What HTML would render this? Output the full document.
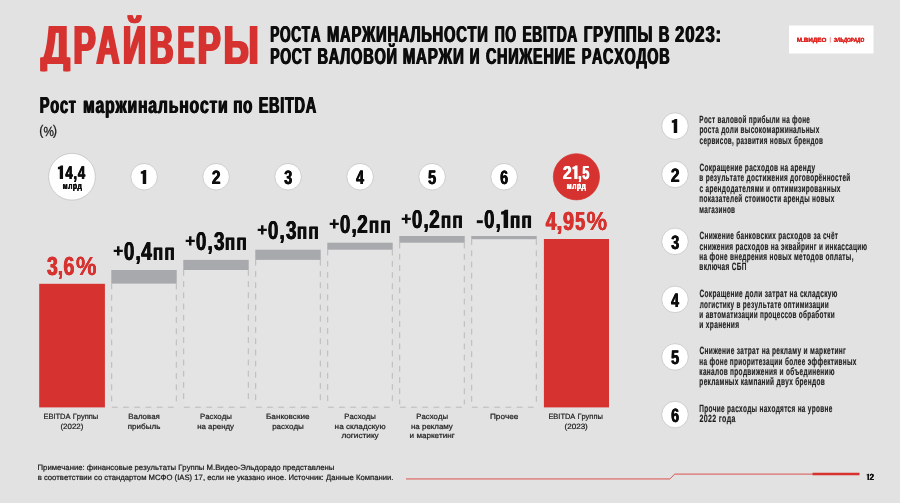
<!DOCTYPE html>
<html lang="ru"><head><meta charset="utf-8"><title>Драйверы роста маржинальности по EBITDA</title>
<style>
html,body{margin:0;padding:0;background:#e2e2e2;}
body{width:900px;height:503px;overflow:hidden;}
svg{display:block;font-family:"Liberation Sans",sans-serif;font-kerning:none;text-rendering:geometricPrecision;opacity:0.999;will-change:transform;}
</style></head><body>
<svg width="900" height="503" viewBox="0 0 900 503">
<rect width="900" height="503" fill="#e2e2e2"/>
<clipPath id="tc"><rect x="0" y="15.2" width="300" height="56.1"/></clipPath><g clip-path="url(#tc)">
<text x="39.64" y="64.00" textLength="29.20" lengthAdjust="spacingAndGlyphs" font-size="55.2" font-weight="bold" fill="#d6322f"  aria-hidden="true">Д</text>
<text x="40.84" y="64.00" textLength="29.20" lengthAdjust="spacingAndGlyphs" font-size="55.2" font-weight="bold" fill="#d6322f" >Д</text>
<text x="42.04" y="64.00" textLength="29.20" lengthAdjust="spacingAndGlyphs" font-size="55.2" font-weight="bold" fill="#d6322f"  aria-hidden="true">Д</text>
<text x="72.28" y="64.00" textLength="22.16" lengthAdjust="spacingAndGlyphs" font-size="55.2" font-weight="bold" fill="#d6322f"  aria-hidden="true">Р</text>
<text x="73.48" y="64.00" textLength="22.16" lengthAdjust="spacingAndGlyphs" font-size="55.2" font-weight="bold" fill="#d6322f" >Р</text>
<text x="74.68" y="64.00" textLength="22.16" lengthAdjust="spacingAndGlyphs" font-size="55.2" font-weight="bold" fill="#d6322f"  aria-hidden="true">Р</text>
<text x="95.31" y="64.00" textLength="22.93" lengthAdjust="spacingAndGlyphs" font-size="55.2" font-weight="bold" fill="#d6322f"  aria-hidden="true">А</text>
<text x="96.51" y="64.00" textLength="22.93" lengthAdjust="spacingAndGlyphs" font-size="55.2" font-weight="bold" fill="#d6322f" >А</text>
<text x="97.71" y="64.00" textLength="22.93" lengthAdjust="spacingAndGlyphs" font-size="55.2" font-weight="bold" fill="#d6322f"  aria-hidden="true">А</text>
<text x="121.66" y="64.00" textLength="23.20" lengthAdjust="spacingAndGlyphs" font-size="55.2" font-weight="bold" fill="#d6322f"  aria-hidden="true">Й</text>
<text x="122.86" y="64.00" textLength="23.20" lengthAdjust="spacingAndGlyphs" font-size="55.2" font-weight="bold" fill="#d6322f" >Й</text>
<text x="124.06" y="64.00" textLength="23.20" lengthAdjust="spacingAndGlyphs" font-size="55.2" font-weight="bold" fill="#d6322f"  aria-hidden="true">Й</text>
<text x="148.28" y="64.00" textLength="23.92" lengthAdjust="spacingAndGlyphs" font-size="55.2" font-weight="bold" fill="#d6322f"  aria-hidden="true">В</text>
<text x="149.48" y="64.00" textLength="23.92" lengthAdjust="spacingAndGlyphs" font-size="55.2" font-weight="bold" fill="#d6322f" >В</text>
<text x="150.68" y="64.00" textLength="23.92" lengthAdjust="spacingAndGlyphs" font-size="55.2" font-weight="bold" fill="#d6322f"  aria-hidden="true">В</text>
<text x="176.41" y="64.00" textLength="16.88" lengthAdjust="spacingAndGlyphs" font-size="55.2" font-weight="bold" fill="#d6322f"  aria-hidden="true">Е</text>
<text x="177.61" y="64.00" textLength="16.88" lengthAdjust="spacingAndGlyphs" font-size="55.2" font-weight="bold" fill="#d6322f" >Е</text>
<text x="178.81" y="64.00" textLength="16.88" lengthAdjust="spacingAndGlyphs" font-size="55.2" font-weight="bold" fill="#d6322f"  aria-hidden="true">Е</text>
<text x="196.51" y="64.00" textLength="22.86" lengthAdjust="spacingAndGlyphs" font-size="55.2" font-weight="bold" fill="#d6322f"  aria-hidden="true">Р</text>
<text x="197.71" y="64.00" textLength="22.86" lengthAdjust="spacingAndGlyphs" font-size="55.2" font-weight="bold" fill="#d6322f" >Р</text>
<text x="198.91" y="64.00" textLength="22.86" lengthAdjust="spacingAndGlyphs" font-size="55.2" font-weight="bold" fill="#d6322f"  aria-hidden="true">Р</text>
<text x="222.53" y="64.00" textLength="34.75" lengthAdjust="spacingAndGlyphs" font-size="55.2" font-weight="bold" fill="#d6322f"  aria-hidden="true">Ы</text>
<text x="223.73" y="64.00" textLength="34.75" lengthAdjust="spacingAndGlyphs" font-size="55.2" font-weight="bold" fill="#d6322f" >Ы</text>
<text x="224.93" y="64.00" textLength="34.75" lengthAdjust="spacingAndGlyphs" font-size="55.2" font-weight="bold" fill="#d6322f"  aria-hidden="true">Ы</text>
</g>
<text x="269.79" y="42.00" textLength="51.03" lengthAdjust="spacingAndGlyphs" font-size="22.9" font-weight="bold" fill="#0d0d0d"  letter-spacing="1.1" aria-hidden="true">РОСТА</text>
<text x="270.29" y="42.00" textLength="51.03" lengthAdjust="spacingAndGlyphs" font-size="22.9" font-weight="bold" fill="#0d0d0d"  letter-spacing="1.1">РОСТА</text>
<text x="270.79" y="42.00" textLength="51.03" lengthAdjust="spacingAndGlyphs" font-size="22.9" font-weight="bold" fill="#0d0d0d"  letter-spacing="1.1" aria-hidden="true">РОСТА</text>
<text x="326.51" y="42.00" textLength="161.69" lengthAdjust="spacingAndGlyphs" font-size="22.9" font-weight="bold" fill="#0d0d0d"  letter-spacing="1.1" aria-hidden="true">МАРЖИНАЛЬНОСТИ</text>
<text x="327.01" y="42.00" textLength="161.69" lengthAdjust="spacingAndGlyphs" font-size="22.9" font-weight="bold" fill="#0d0d0d"  letter-spacing="1.1">МАРЖИНАЛЬНОСТИ</text>
<text x="327.51" y="42.00" textLength="161.69" lengthAdjust="spacingAndGlyphs" font-size="22.9" font-weight="bold" fill="#0d0d0d"  letter-spacing="1.1" aria-hidden="true">МАРЖИНАЛЬНОСТИ</text>
<text x="494.17" y="42.00" textLength="22.19" lengthAdjust="spacingAndGlyphs" font-size="22.9" font-weight="bold" fill="#0d0d0d"  letter-spacing="1.1" aria-hidden="true">ПО</text>
<text x="494.67" y="42.00" textLength="22.19" lengthAdjust="spacingAndGlyphs" font-size="22.9" font-weight="bold" fill="#0d0d0d"  letter-spacing="1.1">ПО</text>
<text x="495.17" y="42.00" textLength="22.19" lengthAdjust="spacingAndGlyphs" font-size="22.9" font-weight="bold" fill="#0d0d0d"  letter-spacing="1.1" aria-hidden="true">ПО</text>
<text x="521.97" y="42.00" textLength="55.56" lengthAdjust="spacingAndGlyphs" font-size="22.9" font-weight="bold" fill="#0d0d0d"  letter-spacing="1.1" aria-hidden="true">EBITDA</text>
<text x="522.47" y="42.00" textLength="55.56" lengthAdjust="spacingAndGlyphs" font-size="22.9" font-weight="bold" fill="#0d0d0d"  letter-spacing="1.1">EBITDA</text>
<text x="522.97" y="42.00" textLength="55.56" lengthAdjust="spacingAndGlyphs" font-size="22.9" font-weight="bold" fill="#0d0d0d"  letter-spacing="1.1" aria-hidden="true">EBITDA</text>
<text x="583.18" y="42.00" textLength="69.47" lengthAdjust="spacingAndGlyphs" font-size="22.9" font-weight="bold" fill="#0d0d0d"  letter-spacing="1.1" aria-hidden="true">ГРУППЫ</text>
<text x="583.68" y="42.00" textLength="69.47" lengthAdjust="spacingAndGlyphs" font-size="22.9" font-weight="bold" fill="#0d0d0d"  letter-spacing="1.1">ГРУППЫ</text>
<text x="584.18" y="42.00" textLength="69.47" lengthAdjust="spacingAndGlyphs" font-size="22.9" font-weight="bold" fill="#0d0d0d"  letter-spacing="1.1" aria-hidden="true">ГРУППЫ</text>
<text x="658.21" y="42.00" textLength="11.37" lengthAdjust="spacingAndGlyphs" font-size="22.9" font-weight="bold" fill="#0d0d0d"  letter-spacing="1.1" aria-hidden="true">В</text>
<text x="658.71" y="42.00" textLength="11.37" lengthAdjust="spacingAndGlyphs" font-size="22.9" font-weight="bold" fill="#0d0d0d"  letter-spacing="1.1">В</text>
<text x="659.21" y="42.00" textLength="11.37" lengthAdjust="spacingAndGlyphs" font-size="22.9" font-weight="bold" fill="#0d0d0d"  letter-spacing="1.1" aria-hidden="true">В</text>
<text x="674.62" y="42.00" textLength="46.79" lengthAdjust="spacingAndGlyphs" font-size="22.9" font-weight="bold" fill="#0d0d0d"  letter-spacing="1.1" aria-hidden="true">2023:</text>
<text x="675.12" y="42.00" textLength="46.79" lengthAdjust="spacingAndGlyphs" font-size="22.9" font-weight="bold" fill="#0d0d0d"  letter-spacing="1.1">2023:</text>
<text x="675.62" y="42.00" textLength="46.79" lengthAdjust="spacingAndGlyphs" font-size="22.9" font-weight="bold" fill="#0d0d0d"  letter-spacing="1.1" aria-hidden="true">2023:</text>
<text x="269.76" y="64.00" textLength="41.56" lengthAdjust="spacingAndGlyphs" font-size="22.9" font-weight="bold" fill="#0d0d0d"  letter-spacing="1.1" aria-hidden="true">РОСТ</text>
<text x="270.26" y="64.00" textLength="41.56" lengthAdjust="spacingAndGlyphs" font-size="22.9" font-weight="bold" fill="#0d0d0d"  letter-spacing="1.1">РОСТ</text>
<text x="270.76" y="64.00" textLength="41.56" lengthAdjust="spacingAndGlyphs" font-size="22.9" font-weight="bold" fill="#0d0d0d"  letter-spacing="1.1" aria-hidden="true">РОСТ</text>
<text x="317.12" y="64.00" textLength="80.06" lengthAdjust="spacingAndGlyphs" font-size="22.9" font-weight="bold" fill="#0d0d0d"  letter-spacing="1.1" aria-hidden="true">ВАЛОВОЙ</text>
<text x="317.62" y="64.00" textLength="80.06" lengthAdjust="spacingAndGlyphs" font-size="22.9" font-weight="bold" fill="#0d0d0d"  letter-spacing="1.1">ВАЛОВОЙ</text>
<text x="318.12" y="64.00" textLength="80.06" lengthAdjust="spacingAndGlyphs" font-size="22.9" font-weight="bold" fill="#0d0d0d"  letter-spacing="1.1" aria-hidden="true">ВАЛОВОЙ</text>
<text x="402.19" y="64.00" textLength="61.85" lengthAdjust="spacingAndGlyphs" font-size="22.9" font-weight="bold" fill="#0d0d0d"  letter-spacing="1.1" aria-hidden="true">МАРЖИ</text>
<text x="402.69" y="64.00" textLength="61.85" lengthAdjust="spacingAndGlyphs" font-size="22.9" font-weight="bold" fill="#0d0d0d"  letter-spacing="1.1">МАРЖИ</text>
<text x="403.19" y="64.00" textLength="61.85" lengthAdjust="spacingAndGlyphs" font-size="22.9" font-weight="bold" fill="#0d0d0d"  letter-spacing="1.1" aria-hidden="true">МАРЖИ</text>
<text x="469.20" y="64.00" textLength="10.35" lengthAdjust="spacingAndGlyphs" font-size="22.9" font-weight="bold" fill="#0d0d0d"  letter-spacing="1.1" aria-hidden="true">И</text>
<text x="469.70" y="64.00" textLength="10.35" lengthAdjust="spacingAndGlyphs" font-size="22.9" font-weight="bold" fill="#0d0d0d"  letter-spacing="1.1">И</text>
<text x="470.20" y="64.00" textLength="10.35" lengthAdjust="spacingAndGlyphs" font-size="22.9" font-weight="bold" fill="#0d0d0d"  letter-spacing="1.1" aria-hidden="true">И</text>
<text x="485.41" y="64.00" textLength="90.05" lengthAdjust="spacingAndGlyphs" font-size="22.9" font-weight="bold" fill="#0d0d0d"  letter-spacing="1.1" aria-hidden="true">СНИЖЕНИЕ</text>
<text x="485.91" y="64.00" textLength="90.05" lengthAdjust="spacingAndGlyphs" font-size="22.9" font-weight="bold" fill="#0d0d0d"  letter-spacing="1.1">СНИЖЕНИЕ</text>
<text x="486.41" y="64.00" textLength="90.05" lengthAdjust="spacingAndGlyphs" font-size="22.9" font-weight="bold" fill="#0d0d0d"  letter-spacing="1.1" aria-hidden="true">СНИЖЕНИЕ</text>
<text x="581.24" y="64.00" textLength="88.61" lengthAdjust="spacingAndGlyphs" font-size="22.9" font-weight="bold" fill="#0d0d0d"  letter-spacing="1.1" aria-hidden="true">РАСХОДОВ</text>
<text x="581.74" y="64.00" textLength="88.61" lengthAdjust="spacingAndGlyphs" font-size="22.9" font-weight="bold" fill="#0d0d0d"  letter-spacing="1.1">РАСХОДОВ</text>
<text x="582.24" y="64.00" textLength="88.61" lengthAdjust="spacingAndGlyphs" font-size="22.9" font-weight="bold" fill="#0d0d0d"  letter-spacing="1.1" aria-hidden="true">РАСХОДОВ</text>
<rect x="789" y="25.5" width="84.5" height="28" fill="#ffffff"/>
<text x="796.68" y="42.00" textLength="29.48" lengthAdjust="spacingAndGlyphs" font-size="6.1" font-weight="bold" fill="#e02a26"  aria-hidden="true">М.ВИДЕО</text>
<text x="796.88" y="42.00" textLength="29.48" lengthAdjust="spacingAndGlyphs" font-size="6.1" font-weight="bold" fill="#e02a26" >М.ВИДЕО</text>
<text x="797.08" y="42.00" textLength="29.48" lengthAdjust="spacingAndGlyphs" font-size="6.1" font-weight="bold" fill="#e02a26"  aria-hidden="true">М.ВИДЕО</text>
<rect x="829.85" y="37.1" width="0.7" height="5.4" fill="#e4625e"/>
<text x="833.60" y="42.00" textLength="30.27" lengthAdjust="spacingAndGlyphs" font-size="6.1" font-weight="bold" fill="#e02a26" font-style="italic" aria-hidden="true">ЭЛЬДОРАДО</text>
<text x="833.80" y="42.00" textLength="30.27" lengthAdjust="spacingAndGlyphs" font-size="6.1" font-weight="bold" fill="#e02a26" font-style="italic">ЭЛЬДОРАДО</text>
<text x="834.00" y="42.00" textLength="30.27" lengthAdjust="spacingAndGlyphs" font-size="6.1" font-weight="bold" fill="#e02a26" font-style="italic" aria-hidden="true">ЭЛЬДОРАДО</text>
<text x="39.32" y="113.00" textLength="36.78" lengthAdjust="spacingAndGlyphs" font-size="23.2" font-weight="bold" fill="#0d0d0d"  letter-spacing="1.1" aria-hidden="true">Рост</text>
<text x="39.82" y="113.00" textLength="36.78" lengthAdjust="spacingAndGlyphs" font-size="23.2" font-weight="bold" fill="#0d0d0d"  letter-spacing="1.1">Рост</text>
<text x="40.32" y="113.00" textLength="36.78" lengthAdjust="spacingAndGlyphs" font-size="23.2" font-weight="bold" fill="#0d0d0d"  letter-spacing="1.1" aria-hidden="true">Рост</text>
<text x="82.59" y="113.00" textLength="145.35" lengthAdjust="spacingAndGlyphs" font-size="23.2" font-weight="bold" fill="#0d0d0d"  letter-spacing="1.1" aria-hidden="true">маржинальности</text>
<text x="83.09" y="113.00" textLength="145.35" lengthAdjust="spacingAndGlyphs" font-size="23.2" font-weight="bold" fill="#0d0d0d"  letter-spacing="1.1">маржинальности</text>
<text x="83.59" y="113.00" textLength="145.35" lengthAdjust="spacingAndGlyphs" font-size="23.2" font-weight="bold" fill="#0d0d0d"  letter-spacing="1.1" aria-hidden="true">маржинальности</text>
<text x="232.63" y="113.00" textLength="20.10" lengthAdjust="spacingAndGlyphs" font-size="23.2" font-weight="bold" fill="#0d0d0d"  letter-spacing="1.1" aria-hidden="true">по</text>
<text x="233.13" y="113.00" textLength="20.10" lengthAdjust="spacingAndGlyphs" font-size="23.2" font-weight="bold" fill="#0d0d0d"  letter-spacing="1.1">по</text>
<text x="233.63" y="113.00" textLength="20.10" lengthAdjust="spacingAndGlyphs" font-size="23.2" font-weight="bold" fill="#0d0d0d"  letter-spacing="1.1" aria-hidden="true">по</text>
<text x="258.13" y="113.00" textLength="58.25" lengthAdjust="spacingAndGlyphs" font-size="23.2" font-weight="bold" fill="#0d0d0d"  letter-spacing="1.1" aria-hidden="true">EBITDA</text>
<text x="258.63" y="113.00" textLength="58.25" lengthAdjust="spacingAndGlyphs" font-size="23.2" font-weight="bold" fill="#0d0d0d"  letter-spacing="1.1">EBITDA</text>
<text x="259.13" y="113.00" textLength="58.25" lengthAdjust="spacingAndGlyphs" font-size="23.2" font-weight="bold" fill="#0d0d0d"  letter-spacing="1.1" aria-hidden="true">EBITDA</text>
<text x="39.35" y="135.00" textLength="4.02" lengthAdjust="spacingAndGlyphs" font-size="13.8" font-weight="normal" fill="#1a1a1a" stroke="#1a1a1a" stroke-width="0.3">(</text>
<text x="43.48" y="136.00" textLength="10.44" lengthAdjust="spacingAndGlyphs" font-size="13.3" font-weight="normal" fill="#1a1a1a" stroke="#1a1a1a" stroke-width="0.3">%</text>
<text x="52.93" y="135.00" textLength="4.02" lengthAdjust="spacingAndGlyphs" font-size="13.8" font-weight="normal" fill="#1a1a1a" stroke="#1a1a1a" stroke-width="0.3">)</text>
<rect x="39.2" y="283.8" width="65.7" height="123.6" fill="#d6322f"/>
<rect x="543.9" y="239.0" width="65.1" height="168.4" fill="#d6322f"/>
<rect x="111.3" y="283.6" width="65.4" height="123.8" fill="#e4e4e4"/>
<path d="M111.7 283.6V404.4M176.3 283.6V404.4M111.9 407.2H176.7" stroke="#b2b2b4" stroke-width="0.85" stroke-dasharray="5.8 5.4" fill="none"/>
<rect x="111.3" y="270.0" width="65.4" height="13.6" fill="#a8a9ac"/>
<rect x="183.3" y="270.0" width="65.4" height="137.4" fill="#e4e4e4"/>
<path d="M183.7 270.0V404.4M248.3 270.0V404.4M183.9 407.2H248.7" stroke="#b2b2b4" stroke-width="0.85" stroke-dasharray="5.8 5.4" fill="none"/>
<rect x="183.3" y="259.9" width="65.4" height="10.1" fill="#a8a9ac"/>
<rect x="255.3" y="259.9" width="65.4" height="147.5" fill="#e4e4e4"/>
<path d="M255.7 259.9V404.4M320.3 259.9V404.4M255.9 407.2H320.7" stroke="#b2b2b4" stroke-width="0.85" stroke-dasharray="5.8 5.4" fill="none"/>
<rect x="255.3" y="249.7" width="65.4" height="10.2" fill="#a8a9ac"/>
<rect x="327.3" y="249.7" width="65.4" height="157.7" fill="#e4e4e4"/>
<path d="M327.7 249.7V404.4M392.3 249.7V404.4M327.9 407.2H392.7" stroke="#b2b2b4" stroke-width="0.85" stroke-dasharray="5.8 5.4" fill="none"/>
<rect x="327.3" y="242.7" width="65.4" height="7.0" fill="#a8a9ac"/>
<rect x="399.3" y="242.7" width="65.4" height="164.7" fill="#e4e4e4"/>
<path d="M399.7 242.7V404.4M464.3 242.7V404.4M399.9 407.2H464.7" stroke="#b2b2b4" stroke-width="0.85" stroke-dasharray="5.8 5.4" fill="none"/>
<rect x="399.3" y="236.0" width="65.4" height="6.7" fill="#a8a9ac"/>
<rect x="471.3" y="239.2" width="65.4" height="168.2" fill="#e4e4e4"/>
<path d="M471.7 239.2V404.4M536.3 239.2V404.4M471.9 407.2H536.7" stroke="#b2b2b4" stroke-width="0.85" stroke-dasharray="5.8 5.4" fill="none"/>
<rect x="471.3" y="236.0" width="65.4" height="3.2" fill="#a8a9ac"/>
<text x="46.56" y="275.00" textLength="10.74" lengthAdjust="spacingAndGlyphs" font-size="26.3" font-weight="bold" fill="#d6322f"  aria-hidden="true">3</text>
<text x="47.01" y="275.00" textLength="10.74" lengthAdjust="spacingAndGlyphs" font-size="26.3" font-weight="bold" fill="#d6322f" >3</text>
<text x="47.46" y="275.00" textLength="10.74" lengthAdjust="spacingAndGlyphs" font-size="26.3" font-weight="bold" fill="#d6322f"  aria-hidden="true">3</text>
<text x="57.47" y="275.00" textLength="5.05" lengthAdjust="spacingAndGlyphs" font-size="26.3" font-weight="bold" fill="#d6322f"  aria-hidden="true">,</text>
<text x="57.92" y="275.00" textLength="5.05" lengthAdjust="spacingAndGlyphs" font-size="26.3" font-weight="bold" fill="#d6322f" >,</text>
<text x="58.37" y="275.00" textLength="5.05" lengthAdjust="spacingAndGlyphs" font-size="26.3" font-weight="bold" fill="#d6322f"  aria-hidden="true">,</text>
<text x="62.97" y="275.00" textLength="11.04" lengthAdjust="spacingAndGlyphs" font-size="26.3" font-weight="bold" fill="#d6322f"  aria-hidden="true">6</text>
<text x="63.42" y="275.00" textLength="11.04" lengthAdjust="spacingAndGlyphs" font-size="26.3" font-weight="bold" fill="#d6322f" >6</text>
<text x="63.87" y="275.00" textLength="11.04" lengthAdjust="spacingAndGlyphs" font-size="26.3" font-weight="bold" fill="#d6322f"  aria-hidden="true">6</text>
<text x="75.82" y="275.00" textLength="20.69" lengthAdjust="spacingAndGlyphs" font-size="26.3" font-weight="bold" fill="#d6322f"  aria-hidden="true">%</text>
<text x="75.97" y="275.00" textLength="20.69" lengthAdjust="spacingAndGlyphs" font-size="26.3" font-weight="bold" fill="#d6322f" >%</text>
<text x="76.12" y="275.00" textLength="20.69" lengthAdjust="spacingAndGlyphs" font-size="26.3" font-weight="bold" fill="#d6322f"  aria-hidden="true">%</text>
<text x="545.31" y="230.00" textLength="10.59" lengthAdjust="spacingAndGlyphs" font-size="26.3" font-weight="bold" fill="#d6322f"  aria-hidden="true">4</text>
<text x="545.76" y="230.00" textLength="10.59" lengthAdjust="spacingAndGlyphs" font-size="26.3" font-weight="bold" fill="#d6322f" >4</text>
<text x="546.21" y="230.00" textLength="10.59" lengthAdjust="spacingAndGlyphs" font-size="26.3" font-weight="bold" fill="#d6322f"  aria-hidden="true">4</text>
<text x="556.08" y="230.00" textLength="5.83" lengthAdjust="spacingAndGlyphs" font-size="26.3" font-weight="bold" fill="#d6322f"  aria-hidden="true">,</text>
<text x="556.53" y="230.00" textLength="5.83" lengthAdjust="spacingAndGlyphs" font-size="26.3" font-weight="bold" fill="#d6322f" >,</text>
<text x="556.98" y="230.00" textLength="5.83" lengthAdjust="spacingAndGlyphs" font-size="26.3" font-weight="bold" fill="#d6322f"  aria-hidden="true">,</text>
<text x="562.61" y="230.00" textLength="11.02" lengthAdjust="spacingAndGlyphs" font-size="26.3" font-weight="bold" fill="#d6322f"  aria-hidden="true">9</text>
<text x="563.06" y="230.00" textLength="11.02" lengthAdjust="spacingAndGlyphs" font-size="26.3" font-weight="bold" fill="#d6322f" >9</text>
<text x="563.51" y="230.00" textLength="11.02" lengthAdjust="spacingAndGlyphs" font-size="26.3" font-weight="bold" fill="#d6322f"  aria-hidden="true">9</text>
<text x="574.86" y="230.00" textLength="9.84" lengthAdjust="spacingAndGlyphs" font-size="26.3" font-weight="bold" fill="#d6322f"  aria-hidden="true">5</text>
<text x="575.31" y="230.00" textLength="9.84" lengthAdjust="spacingAndGlyphs" font-size="26.3" font-weight="bold" fill="#d6322f" >5</text>
<text x="575.76" y="230.00" textLength="9.84" lengthAdjust="spacingAndGlyphs" font-size="26.3" font-weight="bold" fill="#d6322f"  aria-hidden="true">5</text>
<text x="586.32" y="230.00" textLength="20.69" lengthAdjust="spacingAndGlyphs" font-size="26.3" font-weight="bold" fill="#d6322f"  aria-hidden="true">%</text>
<text x="586.47" y="230.00" textLength="20.69" lengthAdjust="spacingAndGlyphs" font-size="26.3" font-weight="bold" fill="#d6322f" >%</text>
<text x="586.62" y="230.00" textLength="20.69" lengthAdjust="spacingAndGlyphs" font-size="26.3" font-weight="bold" fill="#d6322f"  aria-hidden="true">%</text>
<path d="M113.70 250.85H122.80M118.25 246.20V255.50" stroke="#0d0d0d" stroke-width="2.45" fill="none"/>
<text x="123.46" y="260.00" textLength="17.96" lengthAdjust="spacingAndGlyphs" font-size="25.8" font-weight="bold" fill="#0d0d0d"  letter-spacing="1.6" aria-hidden="true">0,</text>
<text x="123.91" y="260.00" textLength="17.96" lengthAdjust="spacingAndGlyphs" font-size="25.8" font-weight="bold" fill="#0d0d0d"  letter-spacing="1.6">0,</text>
<text x="124.36" y="260.00" textLength="17.96" lengthAdjust="spacingAndGlyphs" font-size="25.8" font-weight="bold" fill="#0d0d0d"  letter-spacing="1.6" aria-hidden="true">0,</text>
<text x="140.71" y="260.00" textLength="12.00" lengthAdjust="spacingAndGlyphs" font-size="25.8" font-weight="bold" fill="#0d0d0d"  letter-spacing="1.6" aria-hidden="true">4</text>
<text x="141.16" y="260.00" textLength="12.00" lengthAdjust="spacingAndGlyphs" font-size="25.8" font-weight="bold" fill="#0d0d0d"  letter-spacing="1.6">4</text>
<text x="141.61" y="260.00" textLength="12.00" lengthAdjust="spacingAndGlyphs" font-size="25.8" font-weight="bold" fill="#0d0d0d"  letter-spacing="1.6" aria-hidden="true">4</text>
<text x="152.40" y="260.00" textLength="23.07" lengthAdjust="spacingAndGlyphs" font-size="23.3" font-weight="bold" fill="#0d0d0d"  letter-spacing="1.6" aria-hidden="true">пп</text>
<text x="152.85" y="260.00" textLength="23.07" lengthAdjust="spacingAndGlyphs" font-size="23.3" font-weight="bold" fill="#0d0d0d"  letter-spacing="1.6">пп</text>
<text x="153.30" y="260.00" textLength="23.07" lengthAdjust="spacingAndGlyphs" font-size="23.3" font-weight="bold" fill="#0d0d0d"  letter-spacing="1.6" aria-hidden="true">пп</text>
<path d="M185.70 240.85H194.80M190.25 236.20V245.50" stroke="#0d0d0d" stroke-width="2.45" fill="none"/>
<text x="195.46" y="250.00" textLength="17.96" lengthAdjust="spacingAndGlyphs" font-size="25.8" font-weight="bold" fill="#0d0d0d"  letter-spacing="1.6" aria-hidden="true">0,</text>
<text x="195.91" y="250.00" textLength="17.96" lengthAdjust="spacingAndGlyphs" font-size="25.8" font-weight="bold" fill="#0d0d0d"  letter-spacing="1.6">0,</text>
<text x="196.36" y="250.00" textLength="17.96" lengthAdjust="spacingAndGlyphs" font-size="25.8" font-weight="bold" fill="#0d0d0d"  letter-spacing="1.6" aria-hidden="true">0,</text>
<text x="213.46" y="250.00" textLength="11.81" lengthAdjust="spacingAndGlyphs" font-size="25.8" font-weight="bold" fill="#0d0d0d"  letter-spacing="1.6" aria-hidden="true">3</text>
<text x="213.91" y="250.00" textLength="11.81" lengthAdjust="spacingAndGlyphs" font-size="25.8" font-weight="bold" fill="#0d0d0d"  letter-spacing="1.6">3</text>
<text x="214.36" y="250.00" textLength="11.81" lengthAdjust="spacingAndGlyphs" font-size="25.8" font-weight="bold" fill="#0d0d0d"  letter-spacing="1.6" aria-hidden="true">3</text>
<text x="224.40" y="250.00" textLength="23.07" lengthAdjust="spacingAndGlyphs" font-size="23.3" font-weight="bold" fill="#0d0d0d"  letter-spacing="1.6" aria-hidden="true">пп</text>
<text x="224.85" y="250.00" textLength="23.07" lengthAdjust="spacingAndGlyphs" font-size="23.3" font-weight="bold" fill="#0d0d0d"  letter-spacing="1.6">пп</text>
<text x="225.30" y="250.00" textLength="23.07" lengthAdjust="spacingAndGlyphs" font-size="23.3" font-weight="bold" fill="#0d0d0d"  letter-spacing="1.6" aria-hidden="true">пп</text>
<path d="M257.70 229.85H266.80M262.25 225.20V234.50" stroke="#0d0d0d" stroke-width="2.45" fill="none"/>
<text x="267.46" y="239.00" textLength="17.96" lengthAdjust="spacingAndGlyphs" font-size="25.8" font-weight="bold" fill="#0d0d0d"  letter-spacing="1.6" aria-hidden="true">0,</text>
<text x="267.91" y="239.00" textLength="17.96" lengthAdjust="spacingAndGlyphs" font-size="25.8" font-weight="bold" fill="#0d0d0d"  letter-spacing="1.6">0,</text>
<text x="268.36" y="239.00" textLength="17.96" lengthAdjust="spacingAndGlyphs" font-size="25.8" font-weight="bold" fill="#0d0d0d"  letter-spacing="1.6" aria-hidden="true">0,</text>
<text x="285.46" y="239.00" textLength="11.81" lengthAdjust="spacingAndGlyphs" font-size="25.8" font-weight="bold" fill="#0d0d0d"  letter-spacing="1.6" aria-hidden="true">3</text>
<text x="285.91" y="239.00" textLength="11.81" lengthAdjust="spacingAndGlyphs" font-size="25.8" font-weight="bold" fill="#0d0d0d"  letter-spacing="1.6">3</text>
<text x="286.36" y="239.00" textLength="11.81" lengthAdjust="spacingAndGlyphs" font-size="25.8" font-weight="bold" fill="#0d0d0d"  letter-spacing="1.6" aria-hidden="true">3</text>
<text x="296.40" y="239.00" textLength="23.07" lengthAdjust="spacingAndGlyphs" font-size="23.3" font-weight="bold" fill="#0d0d0d"  letter-spacing="1.6" aria-hidden="true">пп</text>
<text x="296.85" y="239.00" textLength="23.07" lengthAdjust="spacingAndGlyphs" font-size="23.3" font-weight="bold" fill="#0d0d0d"  letter-spacing="1.6">пп</text>
<text x="297.30" y="239.00" textLength="23.07" lengthAdjust="spacingAndGlyphs" font-size="23.3" font-weight="bold" fill="#0d0d0d"  letter-spacing="1.6" aria-hidden="true">пп</text>
<path d="M329.70 223.85H338.80M334.25 219.20V228.50" stroke="#0d0d0d" stroke-width="2.45" fill="none"/>
<text x="339.46" y="233.00" textLength="17.96" lengthAdjust="spacingAndGlyphs" font-size="25.8" font-weight="bold" fill="#0d0d0d"  letter-spacing="1.6" aria-hidden="true">0,</text>
<text x="339.91" y="233.00" textLength="17.96" lengthAdjust="spacingAndGlyphs" font-size="25.8" font-weight="bold" fill="#0d0d0d"  letter-spacing="1.6">0,</text>
<text x="340.36" y="233.00" textLength="17.96" lengthAdjust="spacingAndGlyphs" font-size="25.8" font-weight="bold" fill="#0d0d0d"  letter-spacing="1.6" aria-hidden="true">0,</text>
<text x="356.75" y="233.00" textLength="11.56" lengthAdjust="spacingAndGlyphs" font-size="25.8" font-weight="bold" fill="#0d0d0d"  letter-spacing="1.6" aria-hidden="true">2</text>
<text x="357.20" y="233.00" textLength="11.56" lengthAdjust="spacingAndGlyphs" font-size="25.8" font-weight="bold" fill="#0d0d0d"  letter-spacing="1.6">2</text>
<text x="357.65" y="233.00" textLength="11.56" lengthAdjust="spacingAndGlyphs" font-size="25.8" font-weight="bold" fill="#0d0d0d"  letter-spacing="1.6" aria-hidden="true">2</text>
<text x="368.40" y="233.00" textLength="23.07" lengthAdjust="spacingAndGlyphs" font-size="23.3" font-weight="bold" fill="#0d0d0d"  letter-spacing="1.6" aria-hidden="true">пп</text>
<text x="368.85" y="233.00" textLength="23.07" lengthAdjust="spacingAndGlyphs" font-size="23.3" font-weight="bold" fill="#0d0d0d"  letter-spacing="1.6">пп</text>
<text x="369.30" y="233.00" textLength="23.07" lengthAdjust="spacingAndGlyphs" font-size="23.3" font-weight="bold" fill="#0d0d0d"  letter-spacing="1.6" aria-hidden="true">пп</text>
<path d="M401.70 218.85H410.80M406.25 214.20V223.50" stroke="#0d0d0d" stroke-width="2.45" fill="none"/>
<text x="411.46" y="228.00" textLength="17.96" lengthAdjust="spacingAndGlyphs" font-size="25.8" font-weight="bold" fill="#0d0d0d"  letter-spacing="1.6" aria-hidden="true">0,</text>
<text x="411.91" y="228.00" textLength="17.96" lengthAdjust="spacingAndGlyphs" font-size="25.8" font-weight="bold" fill="#0d0d0d"  letter-spacing="1.6">0,</text>
<text x="412.36" y="228.00" textLength="17.96" lengthAdjust="spacingAndGlyphs" font-size="25.8" font-weight="bold" fill="#0d0d0d"  letter-spacing="1.6" aria-hidden="true">0,</text>
<text x="428.75" y="228.00" textLength="11.56" lengthAdjust="spacingAndGlyphs" font-size="25.8" font-weight="bold" fill="#0d0d0d"  letter-spacing="1.6" aria-hidden="true">2</text>
<text x="429.20" y="228.00" textLength="11.56" lengthAdjust="spacingAndGlyphs" font-size="25.8" font-weight="bold" fill="#0d0d0d"  letter-spacing="1.6">2</text>
<text x="429.65" y="228.00" textLength="11.56" lengthAdjust="spacingAndGlyphs" font-size="25.8" font-weight="bold" fill="#0d0d0d"  letter-spacing="1.6" aria-hidden="true">2</text>
<text x="440.40" y="228.00" textLength="23.07" lengthAdjust="spacingAndGlyphs" font-size="23.3" font-weight="bold" fill="#0d0d0d"  letter-spacing="1.6" aria-hidden="true">пп</text>
<text x="440.85" y="228.00" textLength="23.07" lengthAdjust="spacingAndGlyphs" font-size="23.3" font-weight="bold" fill="#0d0d0d"  letter-spacing="1.6">пп</text>
<text x="441.30" y="228.00" textLength="23.07" lengthAdjust="spacingAndGlyphs" font-size="23.3" font-weight="bold" fill="#0d0d0d"  letter-spacing="1.6" aria-hidden="true">пп</text>
<rect x="476.80" y="220.25" width="6.0" height="2.9" fill="#0d0d0d"/>
<text x="483.66" y="228.00" textLength="17.84" lengthAdjust="spacingAndGlyphs" font-size="25.8" font-weight="bold" fill="#0d0d0d"  letter-spacing="1.6" aria-hidden="true">0,</text>
<text x="484.11" y="228.00" textLength="17.84" lengthAdjust="spacingAndGlyphs" font-size="25.8" font-weight="bold" fill="#0d0d0d"  letter-spacing="1.6">0,</text>
<text x="484.56" y="228.00" textLength="17.84" lengthAdjust="spacingAndGlyphs" font-size="25.8" font-weight="bold" fill="#0d0d0d"  letter-spacing="1.6" aria-hidden="true">0,</text>
<text x="509.61" y="228.00" textLength="22.84" lengthAdjust="spacingAndGlyphs" font-size="23.3" font-weight="bold" fill="#0d0d0d"  letter-spacing="1.6" aria-hidden="true">пп</text>
<text x="510.06" y="228.00" textLength="22.84" lengthAdjust="spacingAndGlyphs" font-size="23.3" font-weight="bold" fill="#0d0d0d"  letter-spacing="1.6">пп</text>
<text x="510.51" y="228.00" textLength="22.84" lengthAdjust="spacingAndGlyphs" font-size="23.3" font-weight="bold" fill="#0d0d0d"  letter-spacing="1.6" aria-hidden="true">пп</text>
<path transform="translate(505.24 218.71) scale(1.3)" d="M2.2 -6.9V7.15H-1.25V-3.2H-3.2V-5.35Q-0.9 -5.7 -0.15 -6.9Z" fill="#0d0d0d"/>
<circle cx="72" cy="176.75" r="23.4" fill="#ffffff" stroke="#bdbdbd" stroke-width="0.7"/>
<path transform="translate(60.95 172.18) scale(0.954)" d="M2.2 -6.9V7.15H-1.25V-3.2H-3.2V-5.35Q-0.9 -5.7 -0.15 -6.9Z" fill="#0d0d0d"/>
<text x="65.00" y="179.00" textLength="20.48" lengthAdjust="spacingAndGlyphs" font-size="18.7" font-weight="bold" fill="#0d0d0d"  letter-spacing="1.0" aria-hidden="true">4,4</text>
<text x="65.40" y="179.00" textLength="20.48" lengthAdjust="spacingAndGlyphs" font-size="18.7" font-weight="bold" fill="#0d0d0d"  letter-spacing="1.0">4,4</text>
<text x="65.80" y="179.00" textLength="20.48" lengthAdjust="spacingAndGlyphs" font-size="18.7" font-weight="bold" fill="#0d0d0d"  letter-spacing="1.0" aria-hidden="true">4,4</text>
<text x="62.47" y="189.00" textLength="19.70" lengthAdjust="spacingAndGlyphs" font-size="9.6" font-weight="bold" fill="#0d0d0d"  letter-spacing="0.6" aria-hidden="true">млрд</text>
<text x="62.59" y="189.00" textLength="19.70" lengthAdjust="spacingAndGlyphs" font-size="9.6" font-weight="bold" fill="#0d0d0d"  letter-spacing="0.6">млрд</text>
<text x="62.71" y="189.00" textLength="19.70" lengthAdjust="spacingAndGlyphs" font-size="9.6" font-weight="bold" fill="#0d0d0d"  letter-spacing="0.6" aria-hidden="true">млрд</text>
<circle cx="576.4" cy="176.8" r="23.1" fill="#d6322f" stroke="#d6322f" stroke-width="0.7"/>
<text x="562.45" y="179.00" textLength="8.78" lengthAdjust="spacingAndGlyphs" font-size="18.7" font-weight="bold" fill="#ffffff"  aria-hidden="true">2</text>
<text x="562.85" y="179.00" textLength="8.78" lengthAdjust="spacingAndGlyphs" font-size="18.7" font-weight="bold" fill="#ffffff" >2</text>
<text x="563.25" y="179.00" textLength="8.78" lengthAdjust="spacingAndGlyphs" font-size="18.7" font-weight="bold" fill="#ffffff"  aria-hidden="true">2</text>
<path transform="translate(575.45 172.18) scale(0.954)" d="M2.2 -6.9V7.15H-1.25V-3.2H-3.2V-5.35Q-0.9 -5.7 -0.15 -6.9Z" fill="#ffffff"/>
<text x="577.75" y="179.00" textLength="11.77" lengthAdjust="spacingAndGlyphs" font-size="18.7" font-weight="bold" fill="#ffffff"  letter-spacing="1.0" aria-hidden="true">,5</text>
<text x="578.15" y="179.00" textLength="11.77" lengthAdjust="spacingAndGlyphs" font-size="18.7" font-weight="bold" fill="#ffffff"  letter-spacing="1.0">,5</text>
<text x="578.55" y="179.00" textLength="11.77" lengthAdjust="spacingAndGlyphs" font-size="18.7" font-weight="bold" fill="#ffffff"  letter-spacing="1.0" aria-hidden="true">,5</text>
<text x="566.47" y="189.00" textLength="19.70" lengthAdjust="spacingAndGlyphs" font-size="9.6" font-weight="bold" fill="#ffffff"  letter-spacing="0.6" aria-hidden="true">млрд</text>
<text x="566.59" y="189.00" textLength="19.70" lengthAdjust="spacingAndGlyphs" font-size="9.6" font-weight="bold" fill="#ffffff"  letter-spacing="0.6">млрд</text>
<text x="566.71" y="189.00" textLength="19.70" lengthAdjust="spacingAndGlyphs" font-size="9.6" font-weight="bold" fill="#ffffff"  letter-spacing="0.6" aria-hidden="true">млрд</text>
<circle cx="144.1" cy="176.75" r="13.3" fill="#ffffff" stroke="#bdbdbd" stroke-width="0.7"/>
<path transform="translate(144.00 176.85) scale(1)" d="M2.2 -6.9V7.15H-1.25V-3.2H-3.2V-5.35Q-0.9 -5.7 -0.15 -6.9Z" fill="#0d0d0d"/>
<circle cx="216.1" cy="176.75" r="13.3" fill="#ffffff" stroke="#bdbdbd" stroke-width="0.7"/>
<text x="211.41" y="184.00" textLength="8.66" lengthAdjust="spacingAndGlyphs" font-size="19.5" font-weight="bold" fill="#0d0d0d"  aria-hidden="true">2</text>
<text x="211.81" y="184.00" textLength="8.66" lengthAdjust="spacingAndGlyphs" font-size="19.5" font-weight="bold" fill="#0d0d0d" >2</text>
<text x="212.21" y="184.00" textLength="8.66" lengthAdjust="spacingAndGlyphs" font-size="19.5" font-weight="bold" fill="#0d0d0d"  aria-hidden="true">2</text>
<circle cx="288.1" cy="176.75" r="13.3" fill="#ffffff" stroke="#bdbdbd" stroke-width="0.7"/>
<text x="283.77" y="184.00" textLength="8.06" lengthAdjust="spacingAndGlyphs" font-size="19.5" font-weight="bold" fill="#0d0d0d"  aria-hidden="true">3</text>
<text x="284.17" y="184.00" textLength="8.06" lengthAdjust="spacingAndGlyphs" font-size="19.5" font-weight="bold" fill="#0d0d0d" >3</text>
<text x="284.57" y="184.00" textLength="8.06" lengthAdjust="spacingAndGlyphs" font-size="19.5" font-weight="bold" fill="#0d0d0d"  aria-hidden="true">3</text>
<circle cx="360.1" cy="176.75" r="13.3" fill="#ffffff" stroke="#bdbdbd" stroke-width="0.7"/>
<text x="355.69" y="184.00" textLength="7.89" lengthAdjust="spacingAndGlyphs" font-size="19.5" font-weight="bold" fill="#0d0d0d"  aria-hidden="true">4</text>
<text x="356.09" y="184.00" textLength="7.89" lengthAdjust="spacingAndGlyphs" font-size="19.5" font-weight="bold" fill="#0d0d0d" >4</text>
<text x="356.49" y="184.00" textLength="7.89" lengthAdjust="spacingAndGlyphs" font-size="19.5" font-weight="bold" fill="#0d0d0d"  aria-hidden="true">4</text>
<circle cx="432.1" cy="176.75" r="13.3" fill="#ffffff" stroke="#bdbdbd" stroke-width="0.7"/>
<text x="427.65" y="184.00" textLength="8.05" lengthAdjust="spacingAndGlyphs" font-size="19.5" font-weight="bold" fill="#0d0d0d"  aria-hidden="true">5</text>
<text x="428.05" y="184.00" textLength="8.05" lengthAdjust="spacingAndGlyphs" font-size="19.5" font-weight="bold" fill="#0d0d0d" >5</text>
<text x="428.45" y="184.00" textLength="8.05" lengthAdjust="spacingAndGlyphs" font-size="19.5" font-weight="bold" fill="#0d0d0d"  aria-hidden="true">5</text>
<circle cx="504.1" cy="176.75" r="13.3" fill="#ffffff" stroke="#bdbdbd" stroke-width="0.7"/>
<text x="499.73" y="184.00" textLength="7.94" lengthAdjust="spacingAndGlyphs" font-size="19.5" font-weight="bold" fill="#0d0d0d"  aria-hidden="true">6</text>
<text x="500.13" y="184.00" textLength="7.94" lengthAdjust="spacingAndGlyphs" font-size="19.5" font-weight="bold" fill="#0d0d0d" >6</text>
<text x="500.53" y="184.00" textLength="7.94" lengthAdjust="spacingAndGlyphs" font-size="19.5" font-weight="bold" fill="#0d0d0d"  aria-hidden="true">6</text>
<text x="43.38" y="419.00" textLength="54.84" lengthAdjust="spacingAndGlyphs" font-size="7.6" font-weight="normal" fill="#1e1e1e" stroke="#1e1e1e" stroke-width="0.22">EBITDA Группы</text>
<text x="60.51" y="429.00" textLength="22.78" lengthAdjust="spacingAndGlyphs" font-size="7.6" font-weight="normal" fill="#1e1e1e" stroke="#1e1e1e" stroke-width="0.22">(2022)</text>
<text x="128.35" y="419.00" textLength="31.49" lengthAdjust="spacingAndGlyphs" font-size="7.6" font-weight="normal" fill="#1e1e1e" stroke="#1e1e1e" stroke-width="0.22">Валовая</text>
<text x="127.74" y="429.00" textLength="32.59" lengthAdjust="spacingAndGlyphs" font-size="7.6" font-weight="normal" fill="#1e1e1e" stroke="#1e1e1e" stroke-width="0.22">прибыль</text>
<text x="200.06" y="419.00" textLength="31.78" lengthAdjust="spacingAndGlyphs" font-size="7.6" font-weight="normal" fill="#1e1e1e" stroke="#1e1e1e" stroke-width="0.22">Расходы</text>
<text x="197.16" y="429.00" textLength="36.86" lengthAdjust="spacingAndGlyphs" font-size="7.6" font-weight="normal" fill="#1e1e1e" stroke="#1e1e1e" stroke-width="0.22">на аренду</text>
<text x="266.03" y="419.00" textLength="43.63" lengthAdjust="spacingAndGlyphs" font-size="7.6" font-weight="normal" fill="#1e1e1e" stroke="#1e1e1e" stroke-width="0.22">Банковские</text>
<text x="272.19" y="429.00" textLength="31.67" lengthAdjust="spacingAndGlyphs" font-size="7.6" font-weight="normal" fill="#1e1e1e" stroke="#1e1e1e" stroke-width="0.22">расходы</text>
<text x="344.37" y="419.00" textLength="31.47" lengthAdjust="spacingAndGlyphs" font-size="7.6" font-weight="normal" fill="#1e1e1e" stroke="#1e1e1e" stroke-width="0.22">Расходы</text>
<text x="334.63" y="429.00" textLength="50.91" lengthAdjust="spacingAndGlyphs" font-size="7.6" font-weight="normal" fill="#1e1e1e" stroke="#1e1e1e" stroke-width="0.22">на складскую</text>
<text x="341.46" y="438.00" textLength="37.26" lengthAdjust="spacingAndGlyphs" font-size="7.6" font-weight="normal" fill="#1e1e1e" stroke="#1e1e1e" stroke-width="0.22">логистику</text>
<text x="416.36" y="419.00" textLength="31.67" lengthAdjust="spacingAndGlyphs" font-size="7.6" font-weight="normal" fill="#1e1e1e" stroke="#1e1e1e" stroke-width="0.22">Расходы</text>
<text x="410.95" y="429.00" textLength="41.87" lengthAdjust="spacingAndGlyphs" font-size="7.6" font-weight="normal" fill="#1e1e1e" stroke="#1e1e1e" stroke-width="0.22">на рекламу</text>
<text x="409.64" y="438.00" textLength="45.00" lengthAdjust="spacingAndGlyphs" font-size="7.6" font-weight="normal" fill="#1e1e1e" stroke="#1e1e1e" stroke-width="0.22">и маркетинг</text>
<text x="489.93" y="419.00" textLength="28.43" lengthAdjust="spacingAndGlyphs" font-size="7.6" font-weight="normal" fill="#1e1e1e" stroke="#1e1e1e" stroke-width="0.22">Прочее</text>
<text x="548.39" y="419.00" textLength="54.43" lengthAdjust="spacingAndGlyphs" font-size="7.6" font-weight="normal" fill="#1e1e1e" stroke="#1e1e1e" stroke-width="0.22">EBITDA Группы</text>
<text x="564.50" y="429.00" textLength="23.30" lengthAdjust="spacingAndGlyphs" font-size="7.6" font-weight="normal" fill="#1e1e1e" stroke="#1e1e1e" stroke-width="0.22">(2023)</text>
<circle cx="675" cy="126.1" r="13.3" fill="#ffffff" stroke="#bdbdbd" stroke-width="0.7"/>
<path transform="translate(675.00 125.85) scale(1)" d="M2.2 -6.9V7.15H-1.25V-3.2H-3.2V-5.35Q-0.9 -5.7 -0.15 -6.9Z" fill="#0d0d0d"/>
<circle cx="675" cy="174.4" r="13.3" fill="#ffffff" stroke="#bdbdbd" stroke-width="0.7"/>
<text x="670.41" y="182.00" textLength="8.66" lengthAdjust="spacingAndGlyphs" font-size="19.5" font-weight="bold" fill="#0d0d0d"  aria-hidden="true">2</text>
<text x="670.81" y="182.00" textLength="8.66" lengthAdjust="spacingAndGlyphs" font-size="19.5" font-weight="bold" fill="#0d0d0d" >2</text>
<text x="671.21" y="182.00" textLength="8.66" lengthAdjust="spacingAndGlyphs" font-size="19.5" font-weight="bold" fill="#0d0d0d"  aria-hidden="true">2</text>
<circle cx="675" cy="241.4" r="13.3" fill="#ffffff" stroke="#bdbdbd" stroke-width="0.7"/>
<text x="670.77" y="249.00" textLength="8.06" lengthAdjust="spacingAndGlyphs" font-size="19.5" font-weight="bold" fill="#0d0d0d"  aria-hidden="true">3</text>
<text x="671.17" y="249.00" textLength="8.06" lengthAdjust="spacingAndGlyphs" font-size="19.5" font-weight="bold" fill="#0d0d0d" >3</text>
<text x="671.57" y="249.00" textLength="8.06" lengthAdjust="spacingAndGlyphs" font-size="19.5" font-weight="bold" fill="#0d0d0d"  aria-hidden="true">3</text>
<circle cx="675" cy="299.4" r="13.3" fill="#ffffff" stroke="#bdbdbd" stroke-width="0.7"/>
<text x="670.69" y="307.00" textLength="7.89" lengthAdjust="spacingAndGlyphs" font-size="19.5" font-weight="bold" fill="#0d0d0d"  aria-hidden="true">4</text>
<text x="671.09" y="307.00" textLength="7.89" lengthAdjust="spacingAndGlyphs" font-size="19.5" font-weight="bold" fill="#0d0d0d" >4</text>
<text x="671.49" y="307.00" textLength="7.89" lengthAdjust="spacingAndGlyphs" font-size="19.5" font-weight="bold" fill="#0d0d0d"  aria-hidden="true">4</text>
<circle cx="675" cy="356.9" r="13.3" fill="#ffffff" stroke="#bdbdbd" stroke-width="0.7"/>
<text x="670.65" y="364.00" textLength="8.05" lengthAdjust="spacingAndGlyphs" font-size="19.5" font-weight="bold" fill="#0d0d0d"  aria-hidden="true">5</text>
<text x="671.05" y="364.00" textLength="8.05" lengthAdjust="spacingAndGlyphs" font-size="19.5" font-weight="bold" fill="#0d0d0d" >5</text>
<text x="671.45" y="364.00" textLength="8.05" lengthAdjust="spacingAndGlyphs" font-size="19.5" font-weight="bold" fill="#0d0d0d"  aria-hidden="true">5</text>
<circle cx="675" cy="414.6" r="13.3" fill="#ffffff" stroke="#bdbdbd" stroke-width="0.7"/>
<text x="670.73" y="422.00" textLength="7.94" lengthAdjust="spacingAndGlyphs" font-size="19.5" font-weight="bold" fill="#0d0d0d"  aria-hidden="true">6</text>
<text x="671.13" y="422.00" textLength="7.94" lengthAdjust="spacingAndGlyphs" font-size="19.5" font-weight="bold" fill="#0d0d0d" >6</text>
<text x="671.53" y="422.00" textLength="7.94" lengthAdjust="spacingAndGlyphs" font-size="19.5" font-weight="bold" fill="#0d0d0d"  aria-hidden="true">6</text>
<text x="37.57" y="470.00" textLength="296.86" lengthAdjust="spacingAndGlyphs" font-size="7.7" font-weight="normal" fill="#1a1a1a" stroke="#1a1a1a" stroke-width="0.22">Примечание: финансовые результаты Группы М.Видео-Эльдорадо представлены</text>
<text x="37.67" y="480.00" textLength="355.84" lengthAdjust="spacingAndGlyphs" font-size="7.7" font-weight="normal" fill="#1a1a1a" stroke="#1a1a1a" stroke-width="0.22">в соответствии со стандартом МСФО (IAS) 17, если не указано иное. Источник: Данные Компании.</text>
<path d="M406 478.95H669.8L674.8 474.1H812.8" stroke="#da514c" stroke-width="1.0" fill="none"/>
<path d="M812.5 474.05H859.5" stroke="#d6322f" stroke-width="2.4" fill="none"/>
<path transform="translate(868.00 476.80) scale(0.448)" d="M2.2 -6.9V7.15H-1.25V-3.2H-3.2V-5.35Q-0.9 -5.7 -0.15 -6.9Z" fill="#111"/>
<text x="869.31" y="480.00" textLength="4.62" lengthAdjust="spacingAndGlyphs" font-size="8.8" font-weight="bold" fill="#111"  aria-hidden="true">2</text>
<text x="869.41" y="480.00" textLength="4.62" lengthAdjust="spacingAndGlyphs" font-size="8.8" font-weight="bold" fill="#111" >2</text>
<text x="869.51" y="480.00" textLength="4.62" lengthAdjust="spacingAndGlyphs" font-size="8.8" font-weight="bold" fill="#111"  aria-hidden="true">2</text>
<text x="699.37" y="123.00" textLength="110.85" lengthAdjust="spacingAndGlyphs" font-size="10.5" font-weight="bold" fill="#1e1e1e" stroke="#1e1e1e" stroke-width="0.18" letter-spacing="0.5">Рост валовой прибыли на фоне</text>
<text x="699.38" y="133.00" textLength="120.18" lengthAdjust="spacingAndGlyphs" font-size="10.5" font-weight="bold" fill="#1e1e1e" stroke="#1e1e1e" stroke-width="0.18" letter-spacing="0.5">роста доли высокомаржинальных</text>
<text x="699.55" y="144.00" textLength="123.60" lengthAdjust="spacingAndGlyphs" font-size="10.5" font-weight="bold" fill="#1e1e1e" stroke="#1e1e1e" stroke-width="0.18" letter-spacing="0.5">сервисов, развития новых брендов</text>
<text x="699.53" y="171.00" textLength="115.81" lengthAdjust="spacingAndGlyphs" font-size="10.5" font-weight="bold" fill="#1e1e1e" stroke="#1e1e1e" stroke-width="0.18" letter-spacing="0.5">Сокращение расходов на аренду</text>
<text x="699.35" y="181.00" textLength="151.20" lengthAdjust="spacingAndGlyphs" font-size="10.5" font-weight="bold" fill="#1e1e1e" stroke="#1e1e1e" stroke-width="0.18" letter-spacing="0.5">в результате достижения договорённостей</text>
<text x="699.55" y="192.00" textLength="141.11" lengthAdjust="spacingAndGlyphs" font-size="10.5" font-weight="bold" fill="#1e1e1e" stroke="#1e1e1e" stroke-width="0.18" letter-spacing="0.5">с арендодателями и оптимизированных</text>
<text x="699.35" y="202.00" textLength="135.20" lengthAdjust="spacingAndGlyphs" font-size="10.5" font-weight="bold" fill="#1e1e1e" stroke="#1e1e1e" stroke-width="0.18" letter-spacing="0.5">показателей стоимости аренды новых</text>
<text x="699.35" y="213.00" textLength="36.00" lengthAdjust="spacingAndGlyphs" font-size="10.5" font-weight="bold" fill="#1e1e1e" stroke="#1e1e1e" stroke-width="0.18" letter-spacing="0.5">магазинов</text>
<text x="699.54" y="239.00" textLength="138.75" lengthAdjust="spacingAndGlyphs" font-size="10.5" font-weight="bold" fill="#1e1e1e" stroke="#1e1e1e" stroke-width="0.18" letter-spacing="0.5">Снижение банковских расходов за счёт</text>
<text x="699.55" y="250.00" textLength="167.91" lengthAdjust="spacingAndGlyphs" font-size="10.5" font-weight="bold" fill="#1e1e1e" stroke="#1e1e1e" stroke-width="0.18" letter-spacing="0.5">снижения расходов на эквайринг и инкассацию</text>
<text x="699.35" y="260.00" textLength="154.39" lengthAdjust="spacingAndGlyphs" font-size="10.5" font-weight="bold" fill="#1e1e1e" stroke="#1e1e1e" stroke-width="0.18" letter-spacing="0.5">на фоне внедрения новых методов оплаты,</text>
<text x="699.35" y="270.00" textLength="47.40" lengthAdjust="spacingAndGlyphs" font-size="10.5" font-weight="bold" fill="#1e1e1e" stroke="#1e1e1e" stroke-width="0.18" letter-spacing="0.5">включая СБП</text>
<text x="699.53" y="297.00" textLength="138.13" lengthAdjust="spacingAndGlyphs" font-size="10.5" font-weight="bold" fill="#1e1e1e" stroke="#1e1e1e" stroke-width="0.18" letter-spacing="0.5">Сокращение доли затрат на складскую</text>
<text x="699.73" y="308.00" textLength="129.31" lengthAdjust="spacingAndGlyphs" font-size="10.5" font-weight="bold" fill="#1e1e1e" stroke="#1e1e1e" stroke-width="0.18" letter-spacing="0.5">логистику в результате оптимизации</text>
<text x="699.36" y="318.00" textLength="135.59" lengthAdjust="spacingAndGlyphs" font-size="10.5" font-weight="bold" fill="#1e1e1e" stroke="#1e1e1e" stroke-width="0.18" letter-spacing="0.5">и автоматизации процессов обработки</text>
<text x="699.34" y="328.00" textLength="40.04" lengthAdjust="spacingAndGlyphs" font-size="10.5" font-weight="bold" fill="#1e1e1e" stroke="#1e1e1e" stroke-width="0.18" letter-spacing="0.5">и хранения</text>
<text x="699.53" y="354.00" textLength="146.56" lengthAdjust="spacingAndGlyphs" font-size="10.5" font-weight="bold" fill="#1e1e1e" stroke="#1e1e1e" stroke-width="0.18" letter-spacing="0.5">Снижение затрат на рекламу и маркетинг</text>
<text x="699.35" y="365.00" textLength="157.30" lengthAdjust="spacingAndGlyphs" font-size="10.5" font-weight="bold" fill="#1e1e1e" stroke="#1e1e1e" stroke-width="0.18" letter-spacing="0.5">на фоне приоритезации более эффективных</text>
<text x="699.35" y="375.00" textLength="135.41" lengthAdjust="spacingAndGlyphs" font-size="10.5" font-weight="bold" fill="#1e1e1e" stroke="#1e1e1e" stroke-width="0.18" letter-spacing="0.5">каналов продвижения и объединению</text>
<text x="699.37" y="385.00" textLength="125.69" lengthAdjust="spacingAndGlyphs" font-size="10.5" font-weight="bold" fill="#1e1e1e" stroke="#1e1e1e" stroke-width="0.18" letter-spacing="0.5">рекламных кампаний двух брендов</text>
<text x="699.37" y="412.00" textLength="133.16" lengthAdjust="spacingAndGlyphs" font-size="10.5" font-weight="bold" fill="#1e1e1e" stroke="#1e1e1e" stroke-width="0.18" letter-spacing="0.5">Прочие расходы находятся на уровне</text>
<text x="699.56" y="422.00" textLength="36.13" lengthAdjust="spacingAndGlyphs" font-size="10.5" font-weight="bold" fill="#1e1e1e" stroke="#1e1e1e" stroke-width="0.18" letter-spacing="0.5">2022 года</text>
</svg>
</body></html>
